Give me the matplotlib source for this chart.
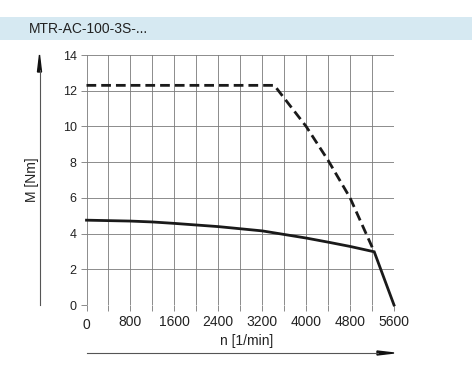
import numpy as np
import matplotlib.pyplot as plt
from matplotlib.patches import Rectangle

# Torque curves
n_solid = [0, 800, 1200, 1600, 2400, 3200, 4000, 4400, 4800, 5240, 5600]
m_solid = [4.75, 4.7, 4.65, 4.57, 4.39, 4.15, 3.75, 3.52, 3.28, 2.98, 0]
n_dash = [0, 3420, 4000, 4400, 4800, 5240]
m_dash = [12.3, 12.3, 10.0, 8.1, 6.0, 2.98]

x_ticks = np.arange(0, 5601, 400)
x_labels = ['0', '', '800', '', '1600', '', '2400', '', '3200', '', '4000', '', '4800', '', '5600']
y_ticks = np.arange(0, 15, 2)

title = 'MTR-AC-100-3S-...'
fam = ['Liberation Sans', 'DejaVu Sans']

fig = plt.figure(figsize=(4.72, 3.9), dpi=100)

# light blue header band
fig.patches.append(Rectangle((0, 1 - 40 / 390), 1, 23 / 390, transform=fig.transFigure,
                             facecolor='#d6e9f2', edgecolor='none', zorder=0))
fig.text(29 / 472, 1 - 29 / 390, title, fontsize=10, family=fam, va='center', color='#222222')

ax = fig.add_axes([86.5 / 472, 1 - 305 / 390, (394 - 86.5) / 472, 250 / 390])
ax.set_xlim(0, 5600)
ax.set_ylim(0, 14)
for s in ax.spines.values():
    s.set_visible(False)

ax.set_xticks(x_ticks)
ax.set_xticklabels(x_labels)
ax.set_yticks(y_ticks)
ax.tick_params(length=4, width=0.7, color='#8a8a8a', labelsize=10, pad=3, labelcolor='#222222')
ax.tick_params(axis='y', labelsize=9)
for lab in ax.get_xticklabels() + ax.get_yticklabels():
    lab.set_family(fam)
ax.get_xticklabels()[0].set_y(-0.012)
ax.grid(True, color='#7a7a7a', lw=0.6)
ax.set_axisbelow(True)

ax.plot(n_solid, m_solid, color='#1a1a1a', lw=2.0, solid_joinstyle='miter', clip_on=False)
ax.plot(n_dash, m_dash, color='#1a1a1a', lw=2.0, ls=(0, (3.5, 1.8)), clip_on=False)

# axis arrows and labels
fig.add_artist(plt.Line2D([39.5 / 472, 39.5 / 472], [1 - 305 / 390, 1 - 70 / 390],
                          color='#555555', lw=0.8))
fig.add_artist(plt.Polygon([[37.5 / 472, 1 - 72 / 390], [41.5 / 472, 1 - 72 / 390],
                            [39.5 / 472, 1 - 55 / 390]], closed=True, color='#111111'))
fig.add_artist(plt.Line2D([86.5 / 472, 378 / 472], [1 - 353 / 390, 1 - 353 / 390],
                          color='#555555', lw=0.8))
fig.add_artist(plt.Polygon([[377 / 472, 1 - 351 / 390], [377 / 472, 1 - 355 / 390],
                            [394 / 472, 1 - 353 / 390]], closed=True, color='#111111'))

fig.text(32 / 472, 1 - 180 / 390, 'M [Nm]', rotation=90, fontsize=10, family=fam,
         ha='center', va='center', color='#222222')
fig.text(247 / 472, 1 - 341 / 390, 'n [1/min]', fontsize=10, family=fam,
         ha='center', va='center', color='#222222')

fig.savefig('out.png', dpi=100)
